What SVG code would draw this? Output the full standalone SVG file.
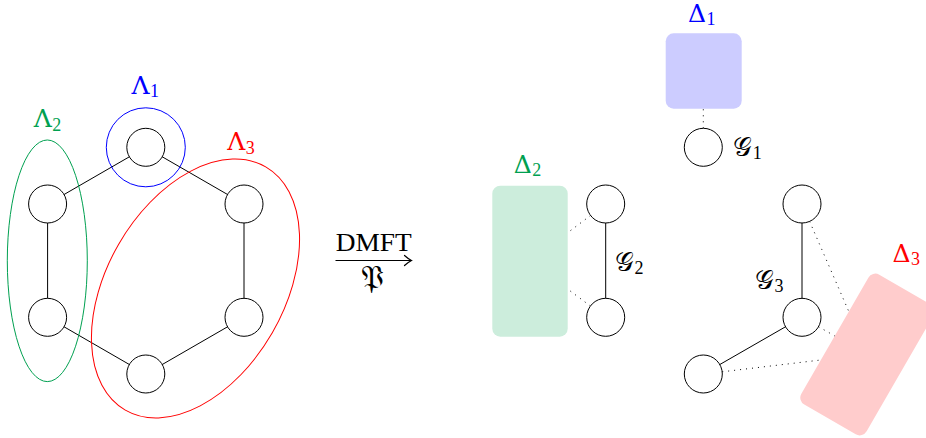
<svg xmlns="http://www.w3.org/2000/svg" width="926" height="438" viewBox="0 0 926 438">
<defs>
<style>
.node{fill:#fff;stroke:#000;stroke-width:1}
.edge{stroke:#000;stroke-width:1;fill:none}
.dot{stroke:#000;stroke-width:1;stroke-dasharray:1 5;fill:none}
.lbl{font-family:"DejaVu Serif","Liberation Serif",serif;font-size:25px}
.sub{font-family:"Liberation Serif","DejaVu Serif",serif;font-size:18px}
.rm{font-family:"Liberation Serif","DejaVu Serif",serif}
.blue{fill:#0000ff}
.green{fill:#00a050}
.red{fill:#ff0000}
.ink{fill:#000}
</style>
<marker id="arr" markerUnits="userSpaceOnUse" markerWidth="14" markerHeight="14" refX="0" refY="0" viewBox="-10 -7 12 14" orient="auto" overflow="visible">
<path d="M-7,-5 Q-3,-1.4 0,0 Q-3,1.4 -7,5" fill="none" stroke="#000" stroke-width="1.2" stroke-linecap="round"/>
</marker>
</defs>

<!-- Left: hexagon lattice -->
<g id="left-connectors">
<line class="edge" x1="145.8" y1="147.3" x2="47.6" y2="204"/>
<line class="edge" x1="47.6" y1="204" x2="47.6" y2="317.3"/>
<line class="edge" x1="47.6" y1="317.3" x2="145.8" y2="374"/>
<line class="edge" x1="145.8" y1="374" x2="244" y2="317.3"/>
<line class="edge" x1="244" y1="317.3" x2="244" y2="204"/>
<line class="edge" x1="244" y1="204" x2="145.8" y2="147.3"/>
</g>
<g id="L1"><circle class="node" cx="145.8" cy="147.3" r="19"/></g>
<g id="L2"><circle class="node" cx="47.6" cy="204" r="19"/></g>
<g id="L3"><circle class="node" cx="47.6" cy="317.3" r="19"/></g>
<g id="L4"><circle class="node" cx="145.8" cy="374" r="19"/></g>
<g id="L5"><circle class="node" cx="244" cy="317.3" r="19"/></g>
<g id="L6"><circle class="node" cx="244" cy="204" r="19"/></g>

<g id="Lambda1">
<circle cx="145.8" cy="147.3" r="39.5" fill="none" stroke="#0000ff" stroke-width="1"/>
<text class="lbl blue" x="131.5" y="93.5">Λ<tspan class="sub" dx="0.5" dy="3.5">1</tspan></text>
</g>
<g id="Lambda2">
<ellipse cx="47.3" cy="260.8" rx="40" ry="120.8" fill="none" stroke="#00a050" stroke-width="1"/>
<text class="lbl green" x="33.8" y="127">Λ<tspan class="sub" dx="0.5" dy="3.5">2</tspan></text>
</g>
<g id="Lambda3">
<ellipse cx="0" cy="0" rx="140.4" ry="88.7" transform="translate(195.5,288.5) rotate(-60)" fill="none" stroke="#ff0000" stroke-width="1"/>
<text class="lbl red" x="227.2" y="150.3">Λ<tspan class="sub" dx="0.5" dy="3.5">3</tspan></text>
</g>

<!-- Middle arrow -->
<g id="arrow">
<line x1="335.5" y1="260.5" x2="411.5" y2="260.5" stroke="#000" stroke-width="1.2" marker-end="url(#arr)"/>
<text class="rm ink" x="373.8" y="250.5" text-anchor="middle" font-size="26" textLength="76" lengthAdjust="spacingAndGlyphs">DMFT</text>
<text class="rm ink" x="372.5" y="288" text-anchor="middle" font-size="32">𝔓</text>
</g>

<!-- Right: baths -->
<g id="Delta1">
<rect x="665.7" y="33.3" width="76" height="75.4" rx="8" fill="#ccccff"/>
<text class="lbl blue" x="688" y="21.5">Δ<tspan class="sub" dx="0.5" dy="3.3">1</tspan></text>
</g>
<g id="Delta2">
<rect x="492.3" y="185.7" width="75.4" height="151" rx="8" fill="#cceddc"/>
<text class="lbl green" x="513.8" y="172.5">Δ<tspan class="sub" dx="0.5" dy="3.3">2</tspan></text>
</g>
<g id="Delta3">
<rect x="-37.7" y="-75" width="75.4" height="150" rx="8" transform="translate(867.5,354.5) rotate(30)" fill="#ffcccc"/>
<text class="lbl red" x="892.5" y="262">Δ<tspan class="sub" dx="0.5" dy="3.3">3</tspan></text>
</g>

<g id="right-connectors">
<line class="edge" x1="605.7" y1="204" x2="605.7" y2="317.3"/>
<line class="edge" x1="802" y1="204" x2="802" y2="317.3"/>
<line class="edge" x1="802" y1="317.3" x2="703.3" y2="374"/>
<line class="dot" x1="703.3" y1="128.3" x2="703.3" y2="108.7"/>
<line class="dot" x1="590.5" y1="215.5" x2="567.7" y2="232.7"/>
<line class="dot" x1="590.4" y1="306" x2="567.7" y2="289.1"/>
<line class="dot" x1="809.6" y1="221.4" x2="848.8" y2="311.5"/>
<line class="dot" x1="818.5" y1="326.7" x2="834.7" y2="335.9"/>
<line class="dot" x1="722.2" y1="371.8" x2="820.7" y2="360"/>
</g>

<g id="G1">
<circle class="node" cx="703.3" cy="147.3" r="19"/>
<text class="rm ink" x="732.7" y="156" font-size="26">𝒢<tspan class="sub" dx="1" dy="3">1</tspan></text>
</g>
<g id="G2a"><circle class="node" cx="605.7" cy="204" r="19"/></g>
<g id="G2b"><circle class="node" cx="605.7" cy="317.3" r="19"/></g>
<g id="G2label"><text class="rm ink" x="614.5" y="270.5" font-size="26">𝒢<tspan class="sub" dx="1" dy="3">2</tspan></text></g>
<g id="G3a"><circle class="node" cx="802" cy="204" r="19"/></g>
<g id="G3b"><circle class="node" cx="802" cy="317.3" r="19"/></g>
<g id="G3c"><circle class="node" cx="703.3" cy="374" r="19"/></g>
<g id="G3label"><text class="rm ink" x="754.5" y="288.5" font-size="26">𝒢<tspan class="sub" dx="1" dy="3">3</tspan></text></g>
</svg>
